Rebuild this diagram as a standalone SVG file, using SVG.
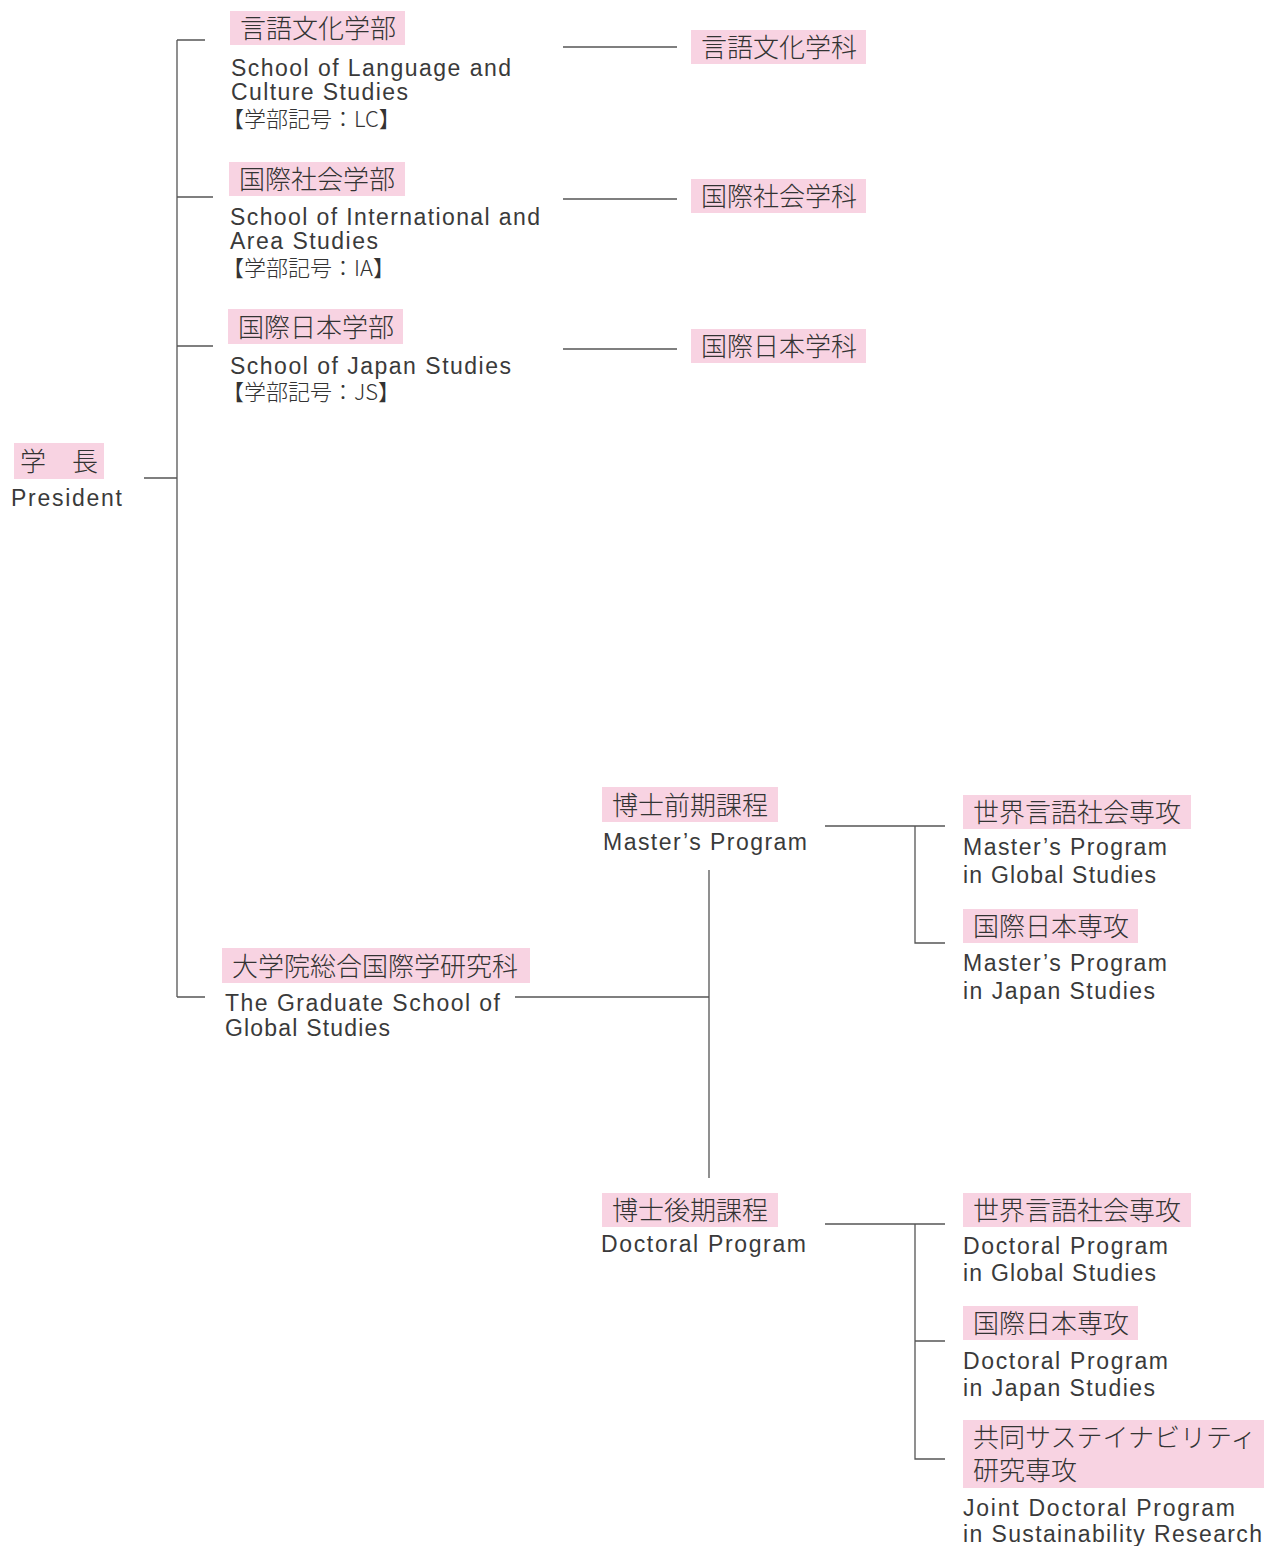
<svg xmlns="http://www.w3.org/2000/svg" width="1264" height="1546" viewBox="0 0 1264 1546">
<style>
.bx{fill:#f8d3e2}
.ja{font-family:"Noto Sans CJK JP","Noto Sans CJK SC",sans-serif;font-size:26px;font-weight:300;fill:#333}
.jb{font-family:"Noto Sans CJK JP","Noto Sans CJK SC",sans-serif;font-size:22px;font-weight:300;fill:#333}
.en{font-family:"Liberation Sans",Arial,sans-serif;font-size:23px;fill:#3a3a3a}
.ln{stroke:#555;stroke-width:1.3;fill:none}
</style>
<rect width="1264" height="1546" fill="#fff"/>
<g id="connectors">
<path class="ln" d="M177 40V997M177 40H205M177 197H213M177 346H213M144 478H177M177 997H205"/>
<path class="ln" d="M563 47H677M563 199H677M563 349H677"/>
<path class="ln" d="M515 997H709M709 870V1178"/>
<path class="ln" d="M825 826H945M915 826V943H945"/>
<path class="ln" d="M825 1224H945M915 1224V1459H945M915 1341H945"/>
</g>
<g id="president">
<rect class="bx" x="14" y="443" width="90" height="36"/>
<text class="ja" x="20" y="471">学　長</text>
<text class="en" x="11" y="506" textLength="111" lengthAdjust="spacing">President</text>
</g>
<g id="lc">
<rect class="bx" x="230" y="11" width="175" height="34"/>
<text class="ja" x="240" y="38">言語文化学部</text>
<text class="en" x="231" y="76" textLength="280" lengthAdjust="spacing">School of Language and</text>
<text class="en" x="231" y="100" textLength="177" lengthAdjust="spacing">Culture Studies</text>
<text class="jb" x="222" y="127">【学部記号：LC】</text>
</g>
<g id="ia">
<rect class="bx" x="229" y="162" width="176" height="34"/>
<text class="ja" x="239" y="189">国際社会学部</text>
<text class="en" x="230" y="225" textLength="310" lengthAdjust="spacing">School of International and</text>
<text class="en" x="230" y="249" textLength="148" lengthAdjust="spacing">Area Studies</text>
<text class="jb" x="222" y="276">【学部記号：IA】</text>
</g>
<g id="js">
<rect class="bx" x="228" y="309" width="175" height="35"/>
<text class="ja" x="238" y="337">国際日本学部</text>
<text class="en" x="230" y="374" textLength="281" lengthAdjust="spacing">School of Japan Studies</text>
<text class="jb" x="222" y="400">【学部記号：JS】</text>
</g>
<g id="dept-lc">
<rect class="bx" x="691" y="30" width="175" height="34"/>
<text class="ja" x="701" y="57">言語文化学科</text>
</g>
<g id="dept-ia">
<rect class="bx" x="691" y="179" width="175" height="34"/>
<text class="ja" x="701" y="206">国際社会学科</text>
</g>
<g id="dept-js">
<rect class="bx" x="691" y="329" width="175" height="34"/>
<text class="ja" x="701" y="356">国際日本学科</text>
</g>
<g id="grad">
<rect class="bx" x="222" y="948" width="308" height="35"/>
<text class="ja" x="232" y="976">大学院総合国際学研究科</text>
<text class="en" x="225" y="1011" textLength="275" lengthAdjust="spacing">The Graduate School of</text>
<text class="en" x="225" y="1036" textLength="165" lengthAdjust="spacing">Global Studies</text>
</g>
<g id="master">
<rect class="bx" x="602" y="787" width="176" height="35"/>
<text class="ja" x="612" y="815">博士前期課程</text>
<text class="en" x="603" y="850" textLength="204" lengthAdjust="spacing">Master’s Program</text>
</g>
<g id="m-global">
<rect class="bx" x="963" y="795" width="228" height="34"/>
<text class="ja" x="973" y="822">世界言語社会専攻</text>
<text class="en" x="963" y="855" textLength="204" lengthAdjust="spacing">Master’s Program</text>
<text class="en" x="963" y="883" textLength="193" lengthAdjust="spacing">in Global Studies</text>
</g>
<g id="m-japan">
<rect class="bx" x="963" y="909" width="175" height="34"/>
<text class="ja" x="973" y="936">国際日本専攻</text>
<text class="en" x="963" y="971" textLength="204" lengthAdjust="spacing">Master’s Program</text>
<text class="en" x="963" y="999" textLength="192" lengthAdjust="spacing">in Japan Studies</text>
</g>
<g id="doctor">
<rect class="bx" x="602" y="1193" width="176" height="34"/>
<text class="ja" x="612" y="1220">博士後期課程</text>
<text class="en" x="601" y="1252" textLength="205" lengthAdjust="spacing">Doctoral Program</text>
</g>
<g id="d-global">
<rect class="bx" x="963" y="1193" width="228" height="34"/>
<text class="ja" x="973" y="1220">世界言語社会専攻</text>
<text class="en" x="963" y="1254" textLength="205" lengthAdjust="spacing">Doctoral Program</text>
<text class="en" x="963" y="1281" textLength="193" lengthAdjust="spacing">in Global Studies</text>
</g>
<g id="d-japan">
<rect class="bx" x="963" y="1306" width="175" height="34"/>
<text class="ja" x="973" y="1333">国際日本専攻</text>
<text class="en" x="963" y="1369" textLength="205" lengthAdjust="spacing">Doctoral Program</text>
<text class="en" x="963" y="1396" textLength="192" lengthAdjust="spacing">in Japan Studies</text>
</g>
<g id="d-sustain">
<rect class="bx" x="963" y="1420" width="301" height="68"/>
<text class="ja" x="973" y="1447">共同サステイナビリティ</text>
<text class="ja" x="973" y="1480">研究専攻</text>
<text class="en" x="963" y="1516" textLength="272" lengthAdjust="spacing">Joint Doctoral Program</text>
<text class="en" x="963" y="1542" textLength="299" lengthAdjust="spacing">in Sustainability Research</text>
</g>
</svg>
